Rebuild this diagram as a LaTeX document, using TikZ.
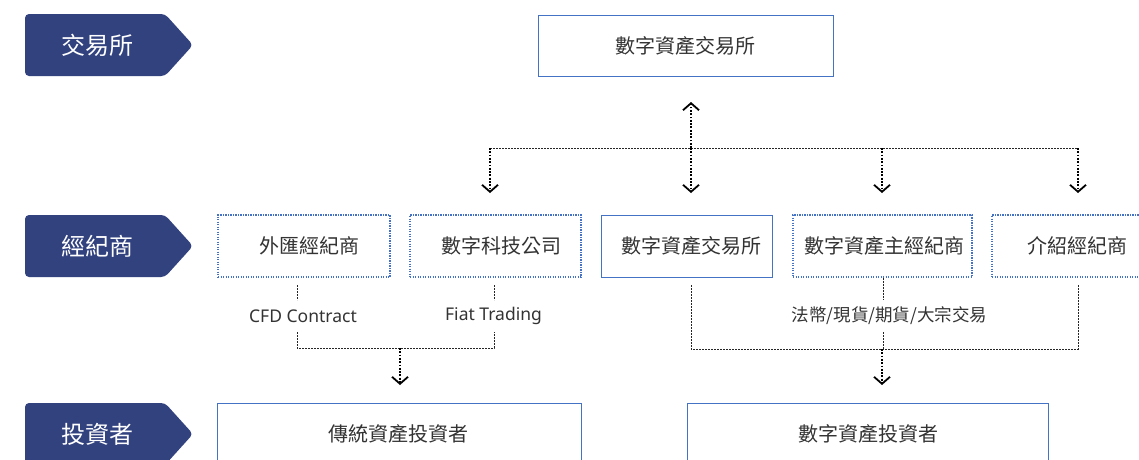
\documentclass[tikz,border=0pt]{standalone}
\usepackage{fontspec}
\setmainfont{Noto Sans CJK TC}
\newfontfamily\latinlbl{Noto Sans}
\usetikzlibrary{arrows.meta}
\definecolor{navy}{HTML}{32427F}
\definecolor{bblue}{HTML}{4472C4}
\definecolor{txt}{HTML}{333333}
\begin{document}
\begin{tikzpicture}[x=1pt,y=-1pt,
  tabtext/.style={text=white,font=\fontsize{24}{28}\selectfont,inner sep=0pt},
  solidbox/.style={draw=bblue,line width=1pt,text=txt,font=\fontsize{20}{24}\selectfont,inner sep=0pt},
  dotbox/.style={draw=bblue,line width=1.2pt,dash pattern=on 1.2pt off 1.3pt,text=txt,font=\fontsize{20}{24}\selectfont,inner sep=0pt},
  lbl/.style={text=txt,font=\fontsize{17.5}{21}\selectfont,inner sep=0pt},
  latlbl/.style={text=txt,font=\latinlbl\fontsize{17.5}{21}\selectfont,inner sep=0pt},
  thinline/.style={draw=black!85,line width=0.9pt,dash pattern=on 2pt off 1pt},
  arrowline/.style={draw=black,line width=1.8pt,dash pattern=on 1.8pt off 1.5pt,-{Straight Barb[length=7pt,width=16pt,line width=1.8pt]}}
]
\clip (0,0) rectangle (1139,459);
\fill[white] (0,0) rectangle (1139,459);
% tabs
\foreach \yt/\txt/\nm in {14/交易所/tA,215/經紀商/tB,403/投資者/tC}{
  \fill[navy,rounded corners=4pt] (25,\yt) -- (165,\yt) -- (193,\yt+31) -- (165,\yt+62) -- (25,\yt+62) -- cycle;
  \node[tabtext] (\nm) at (97,\yt+31) {\txt};
}
% top
\node[solidbox,minimum width=295pt,minimum height=61pt] (top) at (685.5,45.5) {數字資產交易所};
% row 2
\node[dotbox,minimum width=172pt,minimum height=62pt] (fx) at (304,246) {\hspace*{11pt}外匯經紀商};
\node[dotbox,minimum width=171pt,minimum height=62pt] (tech) at (495.5,246) {\hspace*{11pt}數字科技公司};
\node[solidbox,minimum width=171pt,minimum height=62pt] (ex) at (686.5,246) {\hspace*{9pt}數字資產交易所};
\node[dotbox,minimum width=179pt,minimum height=62pt] (pb) at (882.5,246) {\hspace*{3pt}數字資產主經紀商};
\node[dotbox,minimum width=171pt,minimum height=62pt] (ib) at (1077.5,246) {介紹經紀商};
% row 3
\node[solidbox,minimum width=364pt,minimum height=66pt] (tinv) at (399,436) {};
\node[text=txt,font=\fontsize{20}{24}\selectfont,inner sep=0pt] (tinvt) at (398,434) {傳統資產投資者};
\node[solidbox,minimum width=361pt,minimum height=66pt] (dinv) at (867.5,436) {};
\node[text=txt,font=\fontsize{20}{24}\selectfont,inner sep=0pt] (dinvt) at (868,434) {數字資產投資者};
% top connectors
\coordinate (up) at (691,102);
\coordinate (h0) at (691,148);
\coordinate (h1) at (490,148);
\coordinate (h2) at (882,148);
\coordinate (h3) at (1078,148);
\coordinate (d1) at (490,193);
\coordinate (d0) at (691,193);
\coordinate (d2) at (882,193);
\coordinate (d3) at (1078,193);
\draw[thinline] (h1) -- (h3);
\draw[arrowline] (h0) -- (up);
\draw[arrowline] (h1) -- (d1);
\draw[arrowline] (h0) -- (d0);
\draw[arrowline] (h2) -- (d2);
\draw[arrowline] (h3) -- (d3);
% lower left
\node[latlbl] (cfd) at (303,316) {CFD Contract};
\node[latlbl] (fiat) at (493.5,316) {Fiat Trading};
\coordinate (fxa) at (297,285);
\coordinate (fxb) at (297,300);
\coordinate (fxc) at (297,332);
\coordinate (fxd) at (297,348);
\coordinate (tea) at (494,285);
\coordinate (teb) at (494,300);
\coordinate (tec) at (494,332);
\coordinate (ted) at (494,348);
\coordinate (lm) at (400,348);
\coordinate (la) at (400,385);
\draw[thinline] (fxa) -- (fxb);
\draw[thinline] (tea) -- (teb);
\draw[thinline] (fxc) -- (fxd) -- (ted) -- (tec);
\draw[arrowline] (lm) -- (la);
% lower right
\node[lbl] (trade) at (889.5,316) {法幣/現貨/期貨/大宗交易};
\coordinate (exa) at (691,285);
\coordinate (exd) at (691,349);
\coordinate (pbb) at (883,300);
\coordinate (pbc) at (883,332);
\coordinate (pbd) at (883,349);
\coordinate (iba) at (1078,285);
\coordinate (ibd) at (1078,349);
\coordinate (rm) at (882,349);
\coordinate (ra) at (882,385);
\draw[thinline] (exa) -- (exd) -- (ibd) -- (iba);
\draw[thinline] (pb.south -| pbb) -- (pbb);
\draw[thinline] (pbc) -- (pbd);
\draw[arrowline] (rm) -- (ra);
\end{tikzpicture}
\end{document}
